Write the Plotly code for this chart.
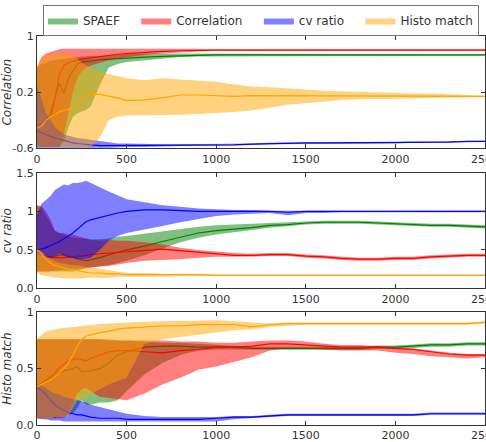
import plotly.graph_objects as go

X = [0, 25, 50, 75, 100, 125, 150, 175, 200, 225, 250, 275, 300, 350, 400, 450, 500,
     600, 700, 800, 900, 1000, 1100, 1200, 1300, 1400, 1500, 1600, 1700, 1800, 1900,
     2000, 2100, 2200, 2300, 2400, 2500]

SERIES = ["SPAEF", "Correlation", "cv ratio", "Histo match"]
LINE_COLORS = ["#008000", "#ff0000", "#0000ff", "#ffa500"]
FILL_COLORS = ["rgba(0,128,0,0.5)", "rgba(255,0,0,0.5)", "rgba(0,0,255,0.5)", "rgba(255,165,0,0.5)"]
PANEL_TITLES = ["Correlation", "cv ratio", "Histo match"]
X_TICKS = [0, 500, 1000, 1500, 2000, 2500]

# ---------------- Panel 1: Correlation ----------------
C_SPAEF_MEAN = [-0.27, -0.25, -0.2, -0.1, 0.12, 0.33, 0.18, 0.4, 0.5, 0.6, 0.63, 0.64, 0.65, 0.66, 0.67, 0.68, 0.69,
                0.70, 0.71, 0.72, 0.73, 0.73, 0.73, 0.73, 0.73, 0.73, 0.73, 0.73, 0.73, 0.73, 0.73,
                0.73, 0.73, 0.73, 0.73, 0.73, 0.73]
C_SPAEF_LO = [-0.58, -0.58, -0.58, -0.58, -0.58, -0.58, -0.5, -0.3, -0.15, -0.1, -0.08, -0.05, 0.0, 0.3, 0.55, 0.6, 0.63,
              0.66, 0.68, 0.7, 0.71, 0.72, 0.72, 0.72, 0.72, 0.72, 0.72, 0.72, 0.72, 0.72, 0.72,
              0.72, 0.72, 0.72, 0.72, 0.72, 0.72]
C_SPAEF_HI = [0.55, 0.6, 0.62, 0.65, 0.66, 0.67, 0.68, 0.69, 0.7, 0.7, 0.71, 0.71, 0.72, 0.72, 0.73, 0.73, 0.74,
              0.75, 0.75, 0.75, 0.74, 0.74, 0.74, 0.74, 0.74, 0.74, 0.74, 0.74, 0.74, 0.74, 0.74,
              0.74, 0.74, 0.74, 0.74, 0.74, 0.74]
C_CORR_MEAN = [-0.27, -0.25, -0.2, -0.15, 0.1, 0.45, 0.58, 0.62, 0.64, 0.66, 0.67, 0.68, 0.69, 0.71, 0.72, 0.74, 0.75,
               0.77, 0.78, 0.79, 0.80, 0.80, 0.80, 0.80, 0.81, 0.81, 0.81, 0.81, 0.81, 0.81, 0.81,
               0.81, 0.81, 0.80, 0.80, 0.80, 0.80]
C_CORR_LO = [-0.58, -0.58, -0.58, -0.58, -0.58, -0.58, -0.4, -0.1, 0.2, 0.4, 0.5, 0.55, 0.58, 0.62, 0.65, 0.68, 0.7,
             0.73, 0.75, 0.77, 0.78, 0.79, 0.79, 0.79, 0.80, 0.80, 0.80, 0.80, 0.80, 0.80, 0.80,
             0.80, 0.80, 0.79, 0.79, 0.79, 0.79]
C_CORR_HI = [0.55, 0.7, 0.75, 0.77, 0.8, 0.81, 0.82, 0.82, 0.83, 0.83, 0.83, 0.83, 0.83, 0.83, 0.83, 0.83, 0.83,
             0.83, 0.82, 0.82, 0.82, 0.81, 0.81, 0.81, 0.82, 0.82, 0.82, 0.82, 0.82, 0.82, 0.82,
             0.82, 0.82, 0.81, 0.81, 0.81, 0.81]
C_CV_MEAN = [-0.35, -0.38, -0.41, -0.43, -0.45, -0.47, -0.49, -0.5, -0.52, -0.53, -0.54, -0.55, -0.55, -0.56, -0.56, -0.56, -0.56,
             -0.56, -0.56, -0.56, -0.55, -0.55, -0.55, -0.54, -0.53, -0.53, -0.52, -0.52, -0.52, -0.52, -0.52,
             -0.52, -0.51, -0.51, -0.51, -0.50, -0.50]
C_CV_LO = [-0.59, -0.59, -0.59, -0.59, -0.59, -0.59, -0.59, -0.59, -0.59, -0.59, -0.59, -0.59, -0.59, -0.59, -0.59, -0.59, -0.58,
           -0.58, -0.58, -0.57, -0.56, -0.56, -0.56, -0.55, -0.54, -0.54, -0.53, -0.53, -0.53, -0.53, -0.53,
           -0.53, -0.52, -0.52, -0.52, -0.51, -0.51]
C_CV_HI = [0.3, 0.1, -0.1, -0.2, -0.3, -0.35, -0.4, -0.42, -0.44, -0.45, -0.46, -0.47, -0.48, -0.5, -0.52, -0.53, -0.53,
           -0.54, -0.54, -0.54, -0.54, -0.54, -0.54, -0.53, -0.52, -0.52, -0.51, -0.51, -0.51, -0.51, -0.51,
           -0.51, -0.50, -0.50, -0.50, -0.49, -0.49]
C_HIST_MEAN = [-0.31, -0.28, -0.2, -0.15, -0.12, -0.08, -0.06, -0.05, -0.03, 0.05, 0.12, 0.15, 0.17, 0.17, 0.15, 0.12, 0.08,
               0.09, 0.12, 0.16, 0.16, 0.15, 0.14, 0.15, 0.15, 0.14, 0.14, 0.14, 0.14, 0.14, 0.14,
               0.14, 0.14, 0.14, 0.14, 0.14, 0.14]
C_HIST_LO = [-0.58, -0.58, -0.58, -0.58, -0.58, -0.58, -0.58, -0.58, -0.58, -0.58, -0.58, -0.58, -0.58, -0.45, -0.2, -0.15, -0.13,
             -0.12, -0.12, -0.12, -0.11, -0.1, -0.08, -0.06, -0.02, 0.02, 0.05, 0.07, 0.09, 0.1, 0.1,
             0.11, 0.11, 0.12, 0.12, 0.13, 0.13]
C_HIST_HI = [0.55, 0.68, 0.72, 0.74, 0.75, 0.75, 0.74, 0.73, 0.72, 0.68, 0.62, 0.58, 0.55, 0.5, 0.46, 0.43, 0.4,
             0.37, 0.4, 0.38, 0.36, 0.35, 0.31, 0.28, 0.27, 0.26, 0.24, 0.22, 0.21, 0.2, 0.2,
             0.19, 0.18, 0.18, 0.17, 0.16, 0.15]

# ---------------- Panel 2: cv ratio ----------------
V_SPAEF_MEAN = [0.5, 0.45, 0.42, 0.41, 0.42, 0.43, 0.44, 0.42, 0.4, 0.38, 0.37, 0.36, 0.37, 0.4, 0.44, 0.47, 0.5,
                0.55, 0.61, 0.67, 0.72, 0.75, 0.77, 0.79, 0.82, 0.83, 0.85, 0.86, 0.86, 0.86, 0.85,
                0.84, 0.83, 0.82, 0.82, 0.81, 0.8]
V_SPAEF_LO = [0.22, 0.22, 0.22, 0.22, 0.22, 0.22, 0.22, 0.22, 0.22, 0.23, 0.25, 0.26, 0.27, 0.29, 0.3, 0.33, 0.36,
              0.43, 0.52, 0.6, 0.66, 0.7, 0.73, 0.76, 0.79, 0.81, 0.83, 0.84, 0.84, 0.84, 0.83,
              0.82, 0.81, 0.80, 0.80, 0.79, 0.78]
V_SPAEF_HI = [1.08, 1.05, 0.95, 0.85, 0.75, 0.72, 0.7, 0.68, 0.66, 0.66, 0.65, 0.65, 0.64, 0.64, 0.65, 0.67, 0.68,
              0.71, 0.74, 0.77, 0.8, 0.82, 0.83, 0.84, 0.85, 0.86, 0.87, 0.88, 0.88, 0.88, 0.87,
              0.86, 0.85, 0.84, 0.84, 0.83, 0.82]
V_CORR_MEAN = [0.5, 0.45, 0.41, 0.4, 0.4, 0.4, 0.4, 0.41, 0.41, 0.42, 0.42, 0.43, 0.44, 0.45, 0.46, 0.47, 0.48,
               0.5, 0.51, 0.49, 0.47, 0.45, 0.43, 0.43, 0.44, 0.44, 0.42, 0.41, 0.39, 0.38, 0.38,
               0.39, 0.39, 0.41, 0.42, 0.43, 0.43]
V_CORR_LO = [0.22, 0.22, 0.22, 0.22, 0.23, 0.23, 0.24, 0.24, 0.25, 0.25, 0.26, 0.26, 0.27, 0.28, 0.29, 0.31, 0.33,
             0.36, 0.37, 0.38, 0.4, 0.41, 0.41, 0.41, 0.42, 0.42, 0.40, 0.39, 0.37, 0.36, 0.36,
             0.37, 0.37, 0.39, 0.40, 0.41, 0.41]
V_CORR_HI = [1.08, 1.07, 1.0, 0.9, 0.75, 0.72, 0.72, 0.7, 0.7, 0.68, 0.66, 0.64, 0.63, 0.62, 0.63, 0.62, 0.62,
             0.6, 0.57, 0.53, 0.5, 0.48, 0.46, 0.45, 0.46, 0.46, 0.44, 0.43, 0.41, 0.40, 0.40,
             0.41, 0.41, 0.43, 0.44, 0.45, 0.45]
V_CV_MEAN = [0.5, 0.51, 0.53, 0.55, 0.58, 0.61, 0.64, 0.68, 0.72, 0.77, 0.82, 0.87, 0.89, 0.92, 0.96, 0.98, 1.0,
             1.02, 1.02, 1.01, 1.0, 1.0, 1.0, 1.0, 1.0, 0.99, 1.0, 1.0, 1.0, 1.0, 1.0,
             1.0, 1.0, 1.0, 1.0, 1.0, 1.0]
V_CV_LO = [0.45, 0.42, 0.4, 0.4, 0.42, 0.45, 0.42, 0.4, 0.4, 0.38, 0.38, 0.39, 0.4, 0.5, 0.62, 0.68, 0.72,
           0.76, 0.81, 0.86, 0.9, 0.94, 0.96, 0.97, 0.98, 0.95, 0.98, 0.98, 0.99, 0.99, 0.99,
           0.99, 0.99, 0.99, 0.99, 0.99, 0.99]
V_CV_HI = [0.95, 1.1, 1.15, 1.2, 1.28, 1.32, 1.35, 1.34, 1.37, 1.37, 1.38, 1.4, 1.37, 1.32, 1.26, 1.21, 1.16,
           1.12, 1.08, 1.06, 1.04, 1.03, 1.02, 1.02, 1.01, 1.01, 1.01, 1.01, 1.01, 1.01, 1.01,
           1.01, 1.01, 1.01, 1.01, 1.01, 1.01]
V_HIST_MEAN = [0.5, 0.45, 0.38, 0.33, 0.3, 0.28, 0.26, 0.25, 0.24, 0.23, 0.22, 0.21, 0.2, 0.2, 0.19, 0.19, 0.18,
               0.18, 0.18, 0.18, 0.18, 0.17, 0.17, 0.17, 0.17, 0.17, 0.17, 0.17, 0.17, 0.17, 0.17,
               0.17, 0.17, 0.17, 0.17, 0.17, 0.17]
V_HIST_LO = [0.2, 0.17, 0.16, 0.15, 0.14, 0.14, 0.13, 0.13, 0.13, 0.13, 0.13, 0.14, 0.14, 0.14, 0.14, 0.15, 0.15,
             0.15, 0.15, 0.16, 0.16, 0.16, 0.16, 0.16, 0.16, 0.16, 0.16, 0.16, 0.16, 0.16, 0.16,
             0.16, 0.16, 0.16, 0.16, 0.16, 0.16]
V_HIST_HI = [0.52, 0.48, 0.42, 0.38, 0.35, 0.33, 0.32, 0.31, 0.3, 0.3, 0.29, 0.28, 0.27, 0.25, 0.23, 0.21, 0.2,
             0.2, 0.19, 0.19, 0.19, 0.18, 0.18, 0.18, 0.18, 0.18, 0.18, 0.18, 0.18, 0.18, 0.18,
             0.18, 0.18, 0.18, 0.18, 0.18, 0.18]

# ---------------- Panel 3: Histo match ----------------
H_SPAEF_MEAN = [0.34, 0.36, 0.39, 0.41, 0.44, 0.46, 0.48, 0.49, 0.5, 0.52, 0.47, 0.48, 0.48, 0.5, 0.55, 0.62, 0.65,
                0.69, 0.7, 0.7, 0.69, 0.69, 0.69, 0.68, 0.68, 0.68, 0.68, 0.68, 0.68, 0.68, 0.69,
                0.69, 0.7, 0.71, 0.71, 0.72, 0.72]
H_SPAEF_LO = [0.06, 0.06, 0.06, 0.06, 0.06, 0.07, 0.08, 0.09, 0.1, 0.15, 0.22, 0.18, 0.18, 0.2, 0.2, 0.22, 0.3,
              0.45, 0.55, 0.62, 0.66, 0.67, 0.67, 0.665, 0.665, 0.665, 0.665, 0.665, 0.665, 0.665, 0.675,
              0.675, 0.685, 0.695, 0.695, 0.705, 0.705]
H_SPAEF_HI = [0.76, 0.76, 0.76, 0.76, 0.76, 0.76, 0.76, 0.76, 0.76, 0.76, 0.76, 0.76, 0.76, 0.76, 0.75, 0.75, 0.75,
              0.74, 0.73, 0.73, 0.72, 0.71, 0.7, 0.695, 0.695, 0.695, 0.695, 0.695, 0.695, 0.695, 0.705,
              0.705, 0.715, 0.725, 0.725, 0.735, 0.735]
H_CORR_MEAN = [0.34, 0.37, 0.4, 0.43, 0.46, 0.51, 0.54, 0.57, 0.58, 0.59, 0.58, 0.57, 0.59, 0.62, 0.65, 0.66, 0.66,
               0.65, 0.64, 0.66, 0.67, 0.69, 0.69, 0.7, 0.72, 0.72, 0.71, 0.7, 0.69, 0.69, 0.69,
               0.68, 0.67, 0.65, 0.63, 0.62, 0.62]
H_CORR_LO = [0.06, 0.06, 0.06, 0.06, 0.06, 0.06, 0.06, 0.1, 0.2, 0.28, 0.32, 0.33, 0.3, 0.25, 0.24, 0.23, 0.22,
             0.28, 0.36, 0.42, 0.49, 0.52, 0.56, 0.6, 0.66, 0.68, 0.68, 0.67, 0.66, 0.66, 0.66,
             0.64, 0.63, 0.61, 0.6, 0.59, 0.6]
H_CORR_HI = [0.76, 0.76, 0.76, 0.76, 0.76, 0.76, 0.76, 0.76, 0.76, 0.76, 0.76, 0.76, 0.76, 0.76, 0.76, 0.75, 0.75,
             0.75, 0.75, 0.74, 0.74, 0.73, 0.73, 0.74, 0.75, 0.75, 0.74, 0.72, 0.71, 0.71, 0.7,
             0.69, 0.68, 0.66, 0.64, 0.63, 0.63]
H_CV_MEAN = [0.33, 0.31, 0.27, 0.22, 0.18, 0.15, 0.13, 0.11, 0.1, 0.09, 0.09, 0.08, 0.07, 0.06, 0.06, 0.06, 0.05,
             0.05, 0.05, 0.05, 0.05, 0.06, 0.07, 0.07, 0.08, 0.09, 0.09, 0.09, 0.09, 0.09, 0.09,
             0.09, 0.09, 0.1, 0.1, 0.1, 0.1]
H_CV_LO = [0.06, 0.05, 0.05, 0.04, 0.04, 0.04, 0.03, 0.03, 0.03, 0.03, 0.03, 0.03, 0.03, 0.03, 0.03, 0.03, 0.03,
           0.03, 0.03, 0.03, 0.03, 0.03, 0.05, 0.06, 0.07, 0.08, 0.08, 0.08, 0.08, 0.08, 0.08,
           0.08, 0.08, 0.09, 0.09, 0.09, 0.09]
H_CV_HI = [0.36, 0.35, 0.33, 0.3, 0.28, 0.27, 0.25, 0.24, 0.23, 0.22, 0.21, 0.2, 0.18, 0.16, 0.14, 0.12, 0.1,
           0.08, 0.07, 0.07, 0.07, 0.07, 0.08, 0.08, 0.09, 0.1, 0.1, 0.1, 0.1, 0.1, 0.1,
           0.1, 0.1, 0.11, 0.11, 0.11, 0.11]
H_HIST_MEAN = [0.34, 0.36, 0.38, 0.4, 0.43, 0.46, 0.5, 0.55, 0.62, 0.7, 0.76, 0.79, 0.8, 0.82, 0.83, 0.85, 0.86,
               0.87, 0.88, 0.88, 0.89, 0.89, 0.89, 0.87, 0.89, 0.9, 0.9, 0.9, 0.9, 0.9, 0.9,
               0.9, 0.9, 0.9, 0.9, 0.9, 0.91]
H_HIST_LO = [0.06, 0.06, 0.06, 0.06, 0.07, 0.07, 0.07, 0.08, 0.15, 0.22, 0.24, 0.24, 0.27, 0.32, 0.36, 0.39, 0.42,
             0.72, 0.76, 0.78, 0.8, 0.82, 0.84, 0.85, 0.87, 0.88, 0.89, 0.89, 0.89, 0.89, 0.89,
             0.89, 0.89, 0.89, 0.89, 0.89, 0.9]
H_HIST_HI = [0.76, 0.8, 0.83, 0.84, 0.85, 0.855, 0.86, 0.865, 0.87, 0.875, 0.88, 0.885, 0.89, 0.895, 0.9, 0.905, 0.91,
             0.915, 0.92, 0.925, 0.93, 0.93, 0.92, 0.91, 0.9, 0.91, 0.91, 0.91, 0.91, 0.91, 0.91,
             0.91, 0.91, 0.91, 0.91, 0.91, 0.92]

PANELS = [
    [(C_SPAEF_MEAN, C_SPAEF_LO, C_SPAEF_HI), (C_CORR_MEAN, C_CORR_LO, C_CORR_HI),
     (C_CV_MEAN, C_CV_LO, C_CV_HI), (C_HIST_MEAN, C_HIST_LO, C_HIST_HI)],
    [(V_SPAEF_MEAN, V_SPAEF_LO, V_SPAEF_HI), (V_CORR_MEAN, V_CORR_LO, V_CORR_HI),
     (V_CV_MEAN, V_CV_LO, V_CV_HI), (V_HIST_MEAN, V_HIST_LO, V_HIST_HI)],
    [(H_SPAEF_MEAN, H_SPAEF_LO, H_SPAEF_HI), (H_CORR_MEAN, H_CORR_LO, H_CORR_HI),
     (H_CV_MEAN, H_CV_LO, H_CV_HI), (H_HIST_MEAN, H_HIST_LO, H_HIST_HI)],
]
Y_RANGES = [[-0.6, 1.0], [0.0, 1.5], [0.0, 1.0]]
Y_TICKVALS = [[-0.6, 0.2, 1.0], [0.0, 0.5, 1.0, 1.5], [0.0, 0.5, 1.0]]
Y_TICKTEXT = [["-0.6", "0.2", "1"], ["0.0", "0.5", "1", "1.5"], ["0.0", "0.5", "1"]]

W, H = 486, 442
ML, MR, MT, MB = 37, 1, 34, 17
ph = H - MT - MB
# panel pixel extents (top, bottom)
PIX = [(34, 147), (171.7, 287.7), (311.7, 425)]
DOMAINS = [[(H - MB - b) / ph, (H - MB - t) / ph] for t, b in PIX]

fig = go.Figure()
font = "DejaVu Sans, Arial, sans-serif"
PAD = "\u00a0\u00a0\u00a0"

for p, panel in enumerate(PANELS):
    xa = "x" if p == 0 else f"x{p+1}"
    ya = "y" if p == 0 else f"y{p+1}"
    for s, (mean, lo, hi) in enumerate(panel):
        label = SERIES[s] + (PAD if s < len(SERIES) - 1 else "")
        fig.add_trace(go.Scatter(
            x=X + X[::-1], y=hi + lo[::-1], fill="toself", fillcolor=FILL_COLORS[s],
            line=dict(width=0), mode="lines", name=label, legendgroup=SERIES[s],
            showlegend=(p == 0), hoverinfo="skip", xaxis=xa, yaxis=ya))
        fig.add_trace(go.Scatter(
            x=X, y=mean, mode="lines", line=dict(color=LINE_COLORS[s], width=1.2),
            name=SERIES[s], legendgroup=SERIES[s], showlegend=False, xaxis=xa, yaxis=ya))

layout = dict(
    width=W, height=H, margin=dict(l=ML, r=MR, t=MT, b=MB),
    paper_bgcolor="white", plot_bgcolor="white",
    font=dict(family=font, size=11, color="#333"),
    legend=dict(orientation="h", x=0.5, xanchor="center", yref="container", y=1 - 5 / H, yanchor="top",
                bordercolor="#777", borderwidth=1, font=dict(size=12, color="#333"),
                bgcolor="white", itemwidth=30, tracegroupgap=0),
    showlegend=True,
)
for p in range(3):
    key = "" if p == 0 else str(p + 1)
    layout["xaxis" + key] = dict(
        range=[0, 2500], tickvals=X_TICKS, ticktext=[str(v) for v in X_TICKS],
        ticks="inside", ticklen=4, tickcolor="#333", showgrid=False, zeroline=False,
        showline=True, linecolor="#333", linewidth=1, mirror="ticks", automargin=False,
        ticklabeloverflow="allow",
        anchor="y" + key, domain=[0, 1], tickfont=dict(size=11, color="#333"))
    layout["yaxis" + key] = dict(
        range=Y_RANGES[p], tickvals=Y_TICKVALS[p], ticktext=Y_TICKTEXT[p],
        ticks="inside", ticklen=4, tickcolor="#333", showgrid=False, zeroline=False,
        showline=True, linecolor="#333", linewidth=1, mirror="ticks", automargin=False,
        anchor="x" + key, domain=DOMAINS[p], tickfont=dict(size=11, color="#333"),
        title=dict(text="<i>" + PANEL_TITLES[p] + "</i>", standoff=2, font=dict(size=12, color="#333")))
fig.update_layout(**layout)
fig.write_html("out.html")
